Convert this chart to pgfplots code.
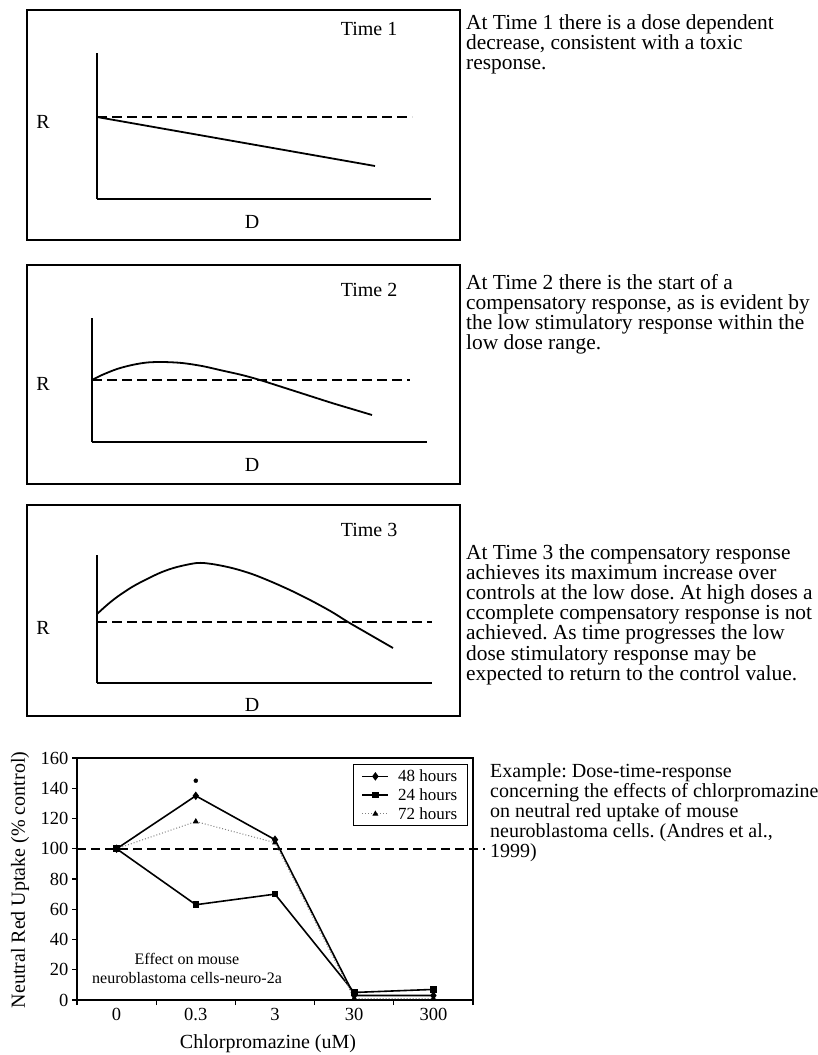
\documentclass[border=0pt]{standalone}
\usepackage{pgfplots}
\pgfplotsset{compat=1.18}
\usepackage{fontspec}
\setmainfont{Liberation Serif}
\begin{document}
\frenchspacing
\begin{tikzpicture}
\path[use as bounding box] (0,0) rectangle (818pt,-1055pt);
\pgfplotsset{
  panel/.style={scale only axis, anchor=south west, axis lines=left,
    axis line style={-, line width=1.5pt}, ticks=none, xmin=0, ymin=0, clip=false},
  dashref/.style={line width=1.5pt, dash pattern=on 10pt off 5pt},
  curve/.style={line width=1.8pt, smooth},
}
\tikzset{lab/.style={font=\fontsize{20}{20}\selectfont},
  txt/.style={font=\fontsize{21.4}{20.2}\selectfont, anchor=north west, align=left, inner sep=0pt},
  txtb/.style={font=\fontsize{20}{20.2}\selectfont, anchor=north west, align=left, inner sep=0pt}}
% ---------- Panel 1
\draw[line width=1.6pt] (27pt,-10pt) rectangle (460pt,-240pt);
\begin{axis}[panel, at={(97pt,-199pt)}, width=334pt, height=146pt, xmax=334, ymax=146]
\addplot[dashref] coordinates {(0,82) (315,82)};
\addplot[line width=1.8pt] coordinates {(0,82) (278,33)};
\end{axis}
\node[lab] at (369pt,-29pt) {Time 1};
\node[lab] at (43pt,-122pt) {R};
\node[lab] at (252pt,-222pt) {D};
\node[txt] at (466pt,-14pt) {At Time 1 there is a dose dependent\\decrease, consistent with a toxic\\response.};
% ---------- Panel 2
\draw[line width=1.6pt] (27pt,-265pt) rectangle (460pt,-484pt);
\begin{axis}[panel, at={(92pt,-442pt)}, width=335pt, height=124pt, xmax=335, ymax=124]
\addplot[dashref] coordinates {(0,62) (318,62)};
\addplot[curve] coordinates {(0,62) (10,67) (25,73) (40,77) (55,79.5) (71,80) (90,79) (110,76) (130,71.5) (150,67) (168,62) (190,55) (215,47) (240,39) (260,33) (280,27)};
\end{axis}
\node[lab] at (369pt,-290pt) {Time 2};
\node[lab] at (43pt,-384pt) {R};
\node[lab] at (252pt,-465pt) {D};
\node[txt] at (466pt,-274pt) {At Time 2 there is the start of a\\compensatory response, as is evident by\\the low stimulatory response within the\\low dose range.};
% ---------- Panel 3
\draw[line width=1.6pt] (27pt,-505pt) rectangle (460pt,-716pt);
\begin{axis}[panel, at={(97pt,-683pt)}, width=335pt, height=128pt, xmax=335, ymax=128]
\addplot[dashref] coordinates {(0,61) (335,61)};
\addplot[curve] coordinates {(0,69) (10,78) (20,86) (35,96) (50,104) (65,111) (80,116) (100,120) (115,119) (135,115) (155,109) (175,101) (195,92) (215,82) (235,71) (251,61) (270,50) (296,35)};
\end{axis}
\node[lab] at (369pt,-530pt) {Time 3};
\node[lab] at (43pt,-628pt) {R};
\node[lab] at (252pt,-705pt) {D};
\node[txt] at (466pt,-544pt) {At Time 3 the compensatory response\\achieves its maximum increase over\\controls at the low dose. At high doses a\\ccomplete compensatory response is not\\achieved. As time progresses the low\\dose stimulatory response may be\\expected to return to the control value.};
% ---------- Example chart
\begin{axis}[at={(77pt,-1000pt)}, anchor=south west, scale only axis,
  width=396pt, height=242pt, xmin=-0.5, xmax=4.5, ymin=0, ymax=160,
  xtick={-0.5,0.5,1.5,2.5,3.5,4.5}, x tick label as interval,
  xticklabels={\textnormal{0},\textnormal{0.3},\textnormal{3},\textnormal{30},\textnormal{300}},
  ytick={0,20,...,160}, tick align=outside, tick pos=left, major tick length=5pt,
  tick style={line width=1.2pt, black},
  axis line style={line width=1.3pt}, clip=false,
  tick label style={font=\fontsize{18.5}{18.5}\selectfont},
  /pgf/number format/assume math mode=true,
  legend style={at={(0.987,0.975)}, anchor=north east, draw=black, line width=1.3pt,
    font=\fontsize{17}{17}\selectfont, row sep=1.5pt, column sep=7pt, inner xsep=8pt, inner ysep=3pt,
    cells={anchor=west}},
  legend image code/.code={\draw[mark repeat=2,mark phase=2,#1] plot coordinates {(0pt,0pt) (13pt,0pt) (26pt,0pt)};},
  ]
\addplot[line width=1.5pt, dash pattern=on 9pt off 5pt, forget plot] coordinates {(-0.5,100) (4.65,100)};
\addplot[line width=1.6pt, mark=diamond*, mark size=3pt] coordinates {(0,100) (1,135) (2,106) (3,3) (4,3)};
\addlegendentry{48 hours}
\addplot[line width=1.6pt, mark=square*, mark size=2.5pt] coordinates {(0,100) (1,63) (2,70) (3,5) (4,7)};
\addlegendentry{24 hours}
\addplot[gray, dotted, line width=1pt, mark=triangle*, mark size=2.5pt, mark options={solid, black}] coordinates {(0,100) (1,118) (2,104) (3,1) (4,1)};
\addlegendentry{72 hours}
\addplot[only marks, mark=*, mark size=2pt, forget plot] coordinates {(1,145)};
\end{axis}
\node[font=\fontsize{16}{19}\selectfont, align=center] at (187pt,-968pt) {Effect on mouse\\neuroblastoma cells-neuro-2a};
\node[lab, rotate=90] at (20pt,-880pt) {Neutral Red Uptake (\% control)};
\node[lab] at (268pt,-1044pt) {Chlorpromazine (uM)};
\node[txtb] at (490pt,-763pt) {Example: Dose-time-response\\concerning the effects of chlorpromazine\\on neutral red uptake of mouse\\neuroblastoma cells. (Andres et al.,\\1999)};
\end{tikzpicture}
\end{document}
